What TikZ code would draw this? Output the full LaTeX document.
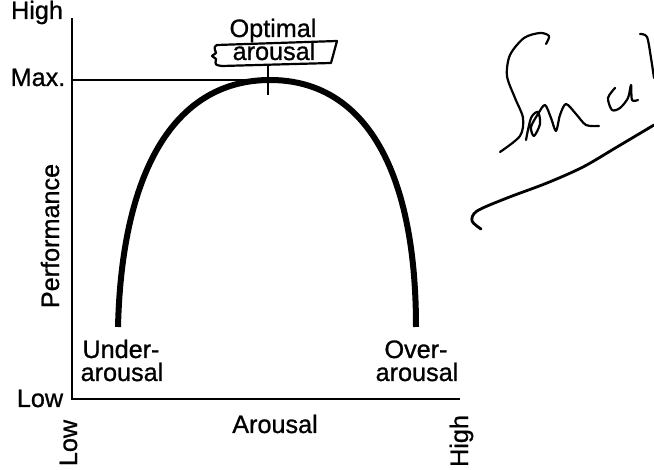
\documentclass[tikz,border=0pt]{standalone}
\usepackage{fontspec}
\setmainfont[FakeBold=0.9]{Liberation Sans}
\usetikzlibrary{positioning,calc}
\tikzset{
  lbl/.style={font=\fontsize{12.6}{13}\selectfont, inner sep=0pt, align=center},
  axis/.style={line width=1.2pt},
  maxline/.style={line width=1pt},
  curve/.style={line width=3pt},
  pen/.style={line width=1.1pt, line cap=round, line join=round},
}

\begin{document}
\begin{tikzpicture}[x=0.5pt,y=-0.5pt]
\useasboundingbox (0,0) rectangle (654,470);
% axes and points of the curve
\coordinate (ytop) at (72,18);
\coordinate (o) at (72,399);
\coordinate (xend) at (460,399);
\coordinate (ymax) at (72,80);
\coordinate (peak) at (270,80);
\coordinate (ul) at (118,327);
\coordinate (ol) at (416,327);
\draw[axis] (ytop) -- (o) -- (xend);
\draw[maxline] (ymax) -- (peak);
\draw[curve] (ul) .. controls (122,165) and (178,80) .. (peak)
  .. controls (362,80) and (416,165) .. (ol);
\draw[maxline] (268,66) -- (268,95);

% labels
\node[lbl, anchor=base] (high) at (37,19) {High};
\node[lbl, anchor=base] (max) at (38,86) {Max.};
\node[lbl, anchor=base] (low) at (40,407) {Low};
\node[lbl, anchor=base, rotate=90] (perf) at (59,236) {Performance};
\node[lbl, anchor=base] (opt) at (273,37) {Optimal};
\node[lbl, anchor=base] (optb) at (274,60) {arousal};
\node[lbl, anchor=base] (under) at (121,358) {Under-};
\node[lbl, anchor=base] (underb) at (122,381) {arousal};
\node[lbl, anchor=base] (over) at (416,358) {Over-};
\node[lbl, anchor=base] (overb) at (417,381) {arousal};
\node[lbl, anchor=base] (xlab) at (275,433) {Arousal};
\node[lbl, anchor=base, rotate=90] (xlow) at (77,443) {Low};
\node[lbl, anchor=base, rotate=90] (xhigh) at (468,441) {High};

% hand-drawn marks
\draw[pen] (217,45) -- (337,41) -- (331,63) -- (222,66)
  .. controls (215,65) .. (216,59) -- (212,56) -- (216,53) .. controls (214,47) .. cycle;
\draw[pen] plot[smooth] coordinates {(546,44) (549,36) (540,33) (524,38) (510,55) (507,76) (515,98) (523,118) (520,136) (500,152)};
\draw[pen] plot[smooth] coordinates {(526,140) (531,118) (538,112) (540,124) (534,136) (531,127) (538,114) (545,105) (551,118) (556,131) (560,115) (566,104) (576,114) (586,125) (599,126)};
\draw[pen] plot[smooth] coordinates {(615,88) (608,98) (612,110) (620,108) (628,98) (631,85) (632,100) (638,100)};
\draw[pen] plot[smooth] coordinates {(640,34) (647,37) (651,58) (654,78)};
\draw[pen, line width=1.4pt] plot[smooth] coordinates {(481,229) (472,221) (477,211) (507,198) (547,183) (583,167) (617,147) (654,125)};
\end{tikzpicture}
\end{document}
